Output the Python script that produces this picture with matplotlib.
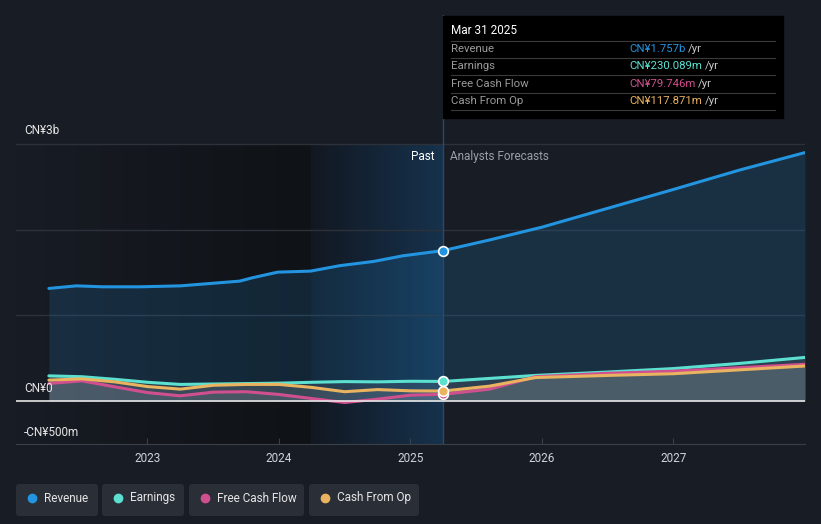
import numpy as np
import matplotlib
matplotlib.use('Agg')
import matplotlib.pyplot as plt
from matplotlib.patches import FancyBboxPatch, Rectangle
from matplotlib.colors import to_rgb

plt.rcParams['font.family'] = ['Roboto', 'DejaVu Sans']

# Revenue (CN¥ billions), decimal years
rev_x = [2022.25, 2022.46, 2022.66, 2022.94, 2023.25, 2023.70, 2023.80, 2023.99, 2024.24,
         2024.46, 2024.72, 2024.94, 2025.25, 2025.6, 2026.0, 2026.5, 2027.0, 2027.5, 2028.0]
revenue = [1.315, 1.345, 1.334, 1.334, 1.345, 1.40, 1.44, 1.505, 1.517,
           1.58, 1.63, 1.695, 1.757, 1.88, 2.03, 2.25, 2.47, 2.695, 2.90]

# Earnings, free cash flow, cash from operations (CN¥ billions)
flow_x = [2022.25, 2022.5, 2022.75, 2023.0, 2023.25, 2023.5, 2023.75, 2024.0, 2024.25,
          2024.5, 2024.75, 2025.0, 2025.25, 2025.6, 2025.95, 2026.5, 2027.0, 2027.5, 2028.0]
earnings = [0.295, 0.285, 0.255, 0.22, 0.195, 0.20, 0.205, 0.21, 0.22,
            0.228, 0.225, 0.232, 0.230, 0.265, 0.30, 0.34, 0.38, 0.44, 0.51]
fcf = [0.206, 0.237, 0.167, 0.10, 0.062, 0.105, 0.11, 0.078, 0.03,
       -0.016, 0.023, 0.07, 0.0797, 0.14, 0.285, 0.325, 0.35, 0.39, 0.43]
cfo = [0.245, 0.26, 0.225, 0.17, 0.14, 0.185, 0.195, 0.195, 0.16,
       0.11, 0.135, 0.12, 0.1179, 0.175, 0.275, 0.30, 0.32, 0.365, 0.41]

now = 2025.25
band_start = 2024.24
year_ticks = [2023, 2024, 2025, 2026, 2027]

BG = '#181c24'
C_REV = '#2394df'
C_EARN = '#5ce0d0'
C_FCF = '#d0508f'
C_CFO = '#e9b35f'

fig = plt.figure(figsize=(8.21, 5.24), dpi=100, facecolor=BG)
W, H = 821, 524
ax = fig.add_axes([16 / W, (H - 444) / H, (805 - 16) / W, (444 - 15) / H])
ax.set_facecolor(BG)
ax.set_xlim(2022.0, 2028.0)
ymax = 3 + (144 - 15) / (300 / 3.5)
ax.set_ylim(-0.5, ymax)

# past shading gradients
def hgrad(c1, c2, n=256):
    a = np.array(to_rgb(c1))
    b = np.array(to_rgb(c2))
    t = np.linspace(0, 1, n)[:, None]
    return (a + (b - a) * t)[None, :, :]

ax.imshow(hgrad(BG, '#0f1216'), extent=[2022.0, band_start, -0.5, 3.0],
          aspect='auto', zorder=0, interpolation='bicubic')
ax.imshow(hgrad('#121821', '#16324d'), extent=[band_start, now, -0.5, 3.0],
          aspect='auto', zorder=0, interpolation='bicubic')

# grid
for g in [1, 2, 3]:
    ax.axhline(g, color='#2c313a', lw=1, zorder=1)
ax.axhline(0, color='#e6e6e6', lw=1.2, zorder=6)

# revenue area + lines
ax.fill_between(rev_x, revenue, 0, color=C_REV, alpha=0.16, lw=0, zorder=2)
for ys in [earnings, fcf, cfo]:
    ax.fill_between(flow_x, ys, 0, color='#b0b4ba', alpha=0.13, lw=0, zorder=3)

line_kw = dict(lw=2.2, zorder=5, solid_joinstyle='round', solid_capstyle='round')
ax.plot(rev_x, revenue, color=C_REV, **line_kw)
ax.plot(flow_x, earnings, color=C_EARN, **line_kw)
ax.plot(flow_x, fcf, color=C_FCF, **line_kw)
ax.plot(flow_x, cfo, color=C_CFO, **line_kw)

ax.axvline(now, ymin=0, ymax=1, color='#2b4a68', lw=1, zorder=4)

for xs, ys, c in [(rev_x, revenue, C_REV), (flow_x, earnings, C_EARN),
                  (flow_x, fcf, C_FCF), (flow_x, cfo, C_CFO)]:
    j = xs.index(now)
    ax.plot(xs[j], ys[j], 'o', ms=7, mfc=c, mec='white', mew=1.2, zorder=7)

ax.text(now - 0.07, 2.85, 'Past', color='white', fontsize=8.5, ha='right', va='center', zorder=8)
ax.text(now + 0.05, 2.85, 'Analysts Forecasts', color='#9aa0a8', fontsize=8.5, ha='left', va='center', zorder=8)

# axes styling
for s in ['top', 'right', 'left']:
    ax.spines[s].set_visible(False)
ax.spines['bottom'].set_color('#3a3f48')
ax.set_xticks(year_ticks)
ax.set_xticklabels([str(y) for y in year_ticks])
ax.tick_params(axis='x', colors='#3a3f48', labelcolor='#d0d3d8', labelsize=8.5,
               length=4, direction='in', pad=6)
ax.set_yticks([])

# overlay in pixel coordinates for labels, tooltip and legend
ov = fig.add_axes([0, 0, 1, 1])
ov.set_xlim(0, W)
ov.set_ylim(H, 0)
ov.axis('off')
ov.patch.set_alpha(0)

ov.text(24, 131, 'CN¥3b', color='#e6e6e6', fontsize=8.5, va='center')
ov.text(24, 389, 'CN¥0', color='#e6e6e6', fontsize=8.5, va='center')
ov.text(24, 432, '-CN¥500m', color='#e6e6e6', fontsize=8.5, va='center')

# tooltip
ov.add_patch(Rectangle((443, 16), 340, 102, color='#000000', zorder=10))
ov.text(451, 31, 'Mar 31 2025', color='white', fontsize=8.5, va='center', zorder=11)
rows = [('Revenue', 'CN¥1.757b', C_REV),
        ('Earnings', 'CN¥230.089m', C_EARN),
        ('Free Cash Flow', 'CN¥79.746m', C_FCF),
        ('Cash From Op', 'CN¥117.871m', C_CFO)]
row_y = [49, 66, 84, 101]
for yy in [41, 58, 75, 93, 110]:
    ov.plot([451, 775], [yy, yy], color='#3a3a3a', lw=0.8, zorder=11)
renderer = fig.canvas.get_renderer()
inv = ov.transData.inverted()
for (lab, val, c), yy in zip(rows, row_y):
    ov.text(451, yy, lab, color='#9a9a9a', fontsize=8.2, va='center', zorder=11)
    t = ov.text(629, yy, val, color=c, fontsize=8.2, va='center', zorder=11)
    bb = t.get_window_extent(renderer=renderer)
    x_end = inv.transform((bb.x1, bb.y0))[0]
    ov.text(x_end + 3, yy, '/yr', color='#c8c8c8', fontsize=8.2, va='center', zorder=11)

# legend
legend_items = [('Revenue', C_REV, 16, 82), ('Earnings', C_EARN, 102, 82),
                ('Free Cash Flow', C_FCF, 189, 115), ('Cash From Op', C_CFO, 309, 110)]
for lab, c, x0, w in legend_items:
    ov.add_patch(FancyBboxPatch((x0 + 3, 487), w - 6, 26, boxstyle='round,pad=3',
                                fc='#2a2e36', ec='none', zorder=10))
    ov.plot(x0 + 16, 498, 'o', ms=6, color=c, zorder=11)
    ov.text(x0 + 28, 498, lab, color='#e6e6e6', fontsize=8.5, va='center', zorder=11)

fig.savefig('out.png', dpi=100, facecolor=BG)
